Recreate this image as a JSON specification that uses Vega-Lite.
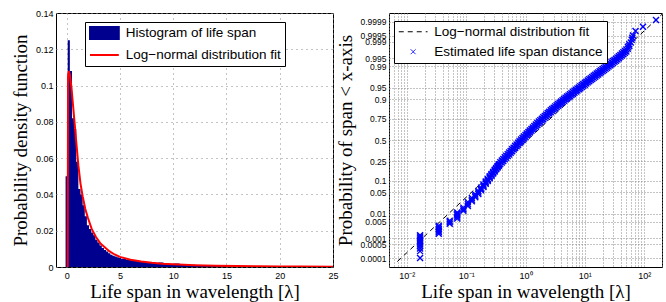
{
  "$schema": "https://vega.github.io/schema/vega-lite/v6.json",
  "background": "white",
  "padding": {"left": 10, "top": 8, "right": 0, "bottom": 0},
  "spacing": -4,
  "resolve": {"scale": {"color": "independent"}, "legend": {"color": "independent"}},
  "config": {
    "font": "Liberation Sans",
    "view": {"stroke": "black", "strokeWidth": 1},
    "axis": {
      "labelFont": "Liberation Sans", "labelFontSize": 9, "labelColor": "black", "labelFontWeight": "normal",
      "titleFont": "Liberation Serif", "titleFontSize": 19, "titleFontWeight": "normal", "titleColor": "black",
      "domain": false, "ticks": false, "tickSize": 0, "tickCount": 500,
      "grid": true, "gridColor": "#888888", "gridOpacity": 1, "gridWidth": 1,
      "labelOverlap": false, "labelBound": false, "labelFlush": false
    },
    "legend": {
      "labelFont": "Liberation Sans", "labelFontSize": 13.5, "labelColor": "black", "labelLimit": 400,
      "symbolSize": 144, "padding": 4, "rowPadding": 5, "labelOffset": 22.8,
      "strokeColor": "black", "fillColor": "white", "cornerRadius": 0, "direction": "vertical"
    }
  },
  "hconcat": [
    {
      "width": 277,
      "height": 254,
      "layer": [
        {
          "data": {"values": [
            {"lo": -0.1, "hi": 0.1, "p": 0.05},
            {"lo": 0.1, "hi": 0.3, "p": 0.125},
            {"lo": 0.3, "hi": 0.5, "p": 0.108},
            {"lo": 0.5, "hi": 0.7, "p": 0.082},
            {"lo": 0.7, "hi": 0.9, "p": 0.076},
            {"lo": 0.9, "hi": 1.1, "p": 0.058},
            {"lo": 1.1, "hi": 1.3, "p": 0.043},
            {"lo": 1.3, "hi": 1.5, "p": 0.040},
            {"lo": 1.5, "hi": 1.7, "p": 0.034},
            {"lo": 1.7, "hi": 1.9, "p": 0.028},
            {"lo": 1.9, "hi": 2.1, "p": 0.023},
            {"lo": 2.1, "hi": 2.3, "p": 0.021},
            {"lo": 2.3, "hi": 2.5, "p": 0.019},
            {"lo": 2.5, "hi": 2.7, "p": 0.0175},
            {"lo": 2.7, "hi": 2.9, "p": 0.015},
            {"lo": 2.9, "hi": 3.1, "p": 0.0135},
            {"lo": 3.1, "hi": 3.3, "p": 0.0118},
            {"lo": 3.3, "hi": 3.5, "p": 0.0105},
            {"lo": 3.5, "hi": 3.7, "p": 0.0094},
            {"lo": 3.7, "hi": 3.9, "p": 0.0085},
            {"lo": 3.9, "hi": 4.1, "p": 0.0076},
            {"lo": 4.1, "hi": 4.3, "p": 0.0068},
            {"lo": 4.3, "hi": 4.5, "p": 0.0062},
            {"lo": 4.5, "hi": 4.7, "p": 0.0058},
            {"lo": 4.7, "hi": 4.9, "p": 0.0054},
            {"lo": 4.9, "hi": 5.1, "p": 0.0050},
            {"lo": 5.1, "hi": 5.6, "p": 0.0046},
            {"lo": 5.6, "hi": 6.1, "p": 0.0040},
            {"lo": 6.1, "hi": 6.6, "p": 0.0036},
            {"lo": 6.6, "hi": 7.1, "p": 0.0031},
            {"lo": 7.1, "hi": 7.6, "p": 0.0027},
            {"lo": 7.6, "hi": 8.1, "p": 0.0023},
            {"lo": 8.1, "hi": 8.6, "p": 0.0020},
            {"lo": 8.6, "hi": 9.1, "p": 0.0025},
            {"lo": 9.1, "hi": 9.6, "p": 0.0016},
            {"lo": 9.6, "hi": 10.1, "p": 0.0014},
            {"lo": 10.1, "hi": 10.6, "p": 0.0019},
            {"lo": 10.6, "hi": 11.1, "p": 0.0011},
            {"lo": 11.1, "hi": 11.6, "p": 0.0016},
            {"lo": 11.6, "hi": 12.1, "p": 0.0012},
            {"lo": 12.1, "hi": 12.6, "p": 0.0008},
            {"lo": 12.6, "hi": 13.1, "p": 0.0007},
            {"lo": 13.1, "hi": 13.6, "p": 0.0011},
            {"lo": 13.6, "hi": 14.1, "p": 0.0006},
            {"lo": 14.1, "hi": 14.6, "p": 0.0005},
            {"lo": 14.6, "hi": 15.1, "p": 0.0005},
            {"lo": 15.1, "hi": 15.6, "p": 0.0004},
            {"lo": 15.6, "hi": 16.1, "p": 0.0005},
            {"lo": 16.1, "hi": 16.6, "p": 0.0003},
            {"lo": 16.6, "hi": 17.1, "p": 0.0003},
            {"lo": 17.1, "hi": 17.6, "p": 0.0004},
            {"lo": 17.6, "hi": 18.1, "p": 0.0002},
            {"lo": 18.1, "hi": 18.6, "p": 0.0002},
            {"lo": 18.6, "hi": 19.1, "p": 0.0003},
            {"lo": 19.1, "hi": 19.6, "p": 0.0002},
            {"lo": 19.6, "hi": 20.1, "p": 0.0001},
            {"lo": 20.1, "hi": 20.6, "p": 0.0002},
            {"lo": 20.6, "hi": 21.1, "p": 0.0001},
            {"lo": 21.1, "hi": 21.6, "p": 0.0001},
            {"lo": 21.6, "hi": 22.1, "p": 0.0001},
            {"lo": 22.1, "hi": 22.6, "p": 0.0001},
            {"lo": 22.6, "hi": 23.1, "p": 0.00005},
            {"lo": 23.1, "hi": 23.6, "p": 0.0001},
            {"lo": 23.6, "hi": 24.1, "p": 0.00005},
            {"lo": 24.1, "hi": 24.6, "p": 0.00005},
            {"lo": 24.6, "hi": 25.1, "p": 0.00005}
          ]},
          "mark": {"type": "area", "interpolate": "step-after", "clip": true},
          "encoding": {
            "x": {"field": "lo", "type": "quantitative",
              "scale": {"domain": [-1, 25], "nice": false, "zero": false},
              "axis": {"values": [0, 5, 10, 15, 20, 25], "format": "~g", "tickCount": 500, "labelOverlap": false, "title": "Life span in wavelength [λ]", "labelPadding": 4, "titlePadding": 2, "gridDash": [1, 4]}},
            "y": {"field": "p", "type": "quantitative",
              "scale": {"domain": [0, 0.14], "nice": false},
              "axis": {"values": [0, 0.02, 0.04, 0.06, 0.08, 0.1, 0.12, 0.14], "tickCount": 500, "labelOverlap": false, "format": "~g", "title": "Probability density function", "labelPadding": 3, "titlePadding": 5, "gridDash": [1, 4]}},
            "color": {"datum": "Histogram of life span", "type": "nominal",
              "scale": {"domain": ["Histogram of life span", "Log−normal distribution fit"], "range": ["#00008f", "#ff0000"]},
              "legend": {"title": null, "orient": "none", "legendX": 29, "legendY": 9,
                "encode": {"symbols": {"update": {
                  "shape": {"signal": "datum.value === 'Histogram of life span' ? 'M-1,-1H3.8V1H-1Z' : 'M-1,0H3.8'"},
                  "fill": {"signal": "datum.value === 'Histogram of life span' ? '#00008f' : 'transparent'"},
                  "stroke": {"signal": "datum.value === 'Histogram of life span' ? 'transparent' : '#ff0000'"},
                  "strokeWidth": {"value": 2},
                  "size": {"value": 144},
                  "opacity": {"value": 1}
                }}}}}
          }
        },
        {
          "data": {"values": [
            {"x": 0.1, "p": 0}, {"x": 0.13, "p": 0.105}, {"x": 0.2, "p": 0.108}, {"x": 0.3, "p": 0.106},
            {"x": 0.45, "p": 0.099}, {"x": 0.6, "p": 0.089}, {"x": 0.75, "p": 0.079}, {"x": 0.9, "p": 0.069},
            {"x": 1.1, "p": 0.056}, {"x": 1.3, "p": 0.046}, {"x": 1.5, "p": 0.039}, {"x": 1.75, "p": 0.032},
            {"x": 2.0, "p": 0.027}, {"x": 2.35, "p": 0.021}, {"x": 2.75, "p": 0.0165}, {"x": 3.2, "p": 0.0128},
            {"x": 3.6, "p": 0.0108}, {"x": 4.0, "p": 0.0087}, {"x": 4.5, "p": 0.0069}, {"x": 5.0, "p": 0.0056},
            {"x": 6, "p": 0.0040}, {"x": 7, "p": 0.0030}, {"x": 8, "p": 0.0023}, {"x": 9, "p": 0.0018},
            {"x": 10, "p": 0.0015}, {"x": 12, "p": 0.0010}, {"x": 14, "p": 0.0007}, {"x": 16, "p": 0.0005},
            {"x": 18, "p": 0.00038}, {"x": 20, "p": 0.0003}, {"x": 22, "p": 0.00022}, {"x": 25, "p": 0.00016}
          ]},
          "mark": {"type": "line", "strokeWidth": 2, "clip": true},
          "encoding": {
            "x": {"field": "x", "type": "quantitative"},
            "y": {"field": "p", "type": "quantitative"},
            "color": {"datum": "Log−normal distribution fit", "type": "nominal"}
          }
        }
      ]
    },
    {
      "width": 273,
      "height": 254,
      "layer": [
        {
          "data": {"values": [{"x": 0.0069, "z": -3.83}, {"x": 200, "z": 3.96}]},
          "mark": {"type": "line", "strokeDash": [5, 4], "strokeWidth": 1, "clip": true},
          "encoding": {
            "x": {"field": "x", "type": "quantitative",
              "scale": {"type": "log", "domain": [0.005, 200], "nice": false},
              "axis": {"values": [0.005, 0.006, 0.007, 0.008, 0.009, 0.01, 0.02, 0.03, 0.04, 0.05, 0.06, 0.07, 0.08, 0.09, 0.1, 0.2, 0.3, 0.4, 0.5, 0.6, 0.7, 0.8, 0.9, 1, 2, 3, 4, 5, 6, 7, 8, 9, 10, 20, 30, 40, 50, 60, 70, 80, 90, 100, 200],
                "tickCount": 500, "labelOverlap": false,
                "labelExpr": "datum.value === 0.01 ? '10⁻²' : datum.value === 0.1 ? '10⁻¹' : datum.value === 1 ? '10⁰' : datum.value === 10 ? '10¹' : datum.value === 100 ? '10²' : ''",
                "title": "Life span in wavelength [λ]", "labelPadding": 4, "titlePadding": 2, "gridDash": [1, 2]}},
            "y": {"field": "z", "type": "quantitative",
              "scale": {"domain": [-4, 4], "nice": false, "zero": false},
              "axis": {"values": [-3.719, -3.2905, -3.0902, -2.5758, -2.3263, -1.6449, -1.2816, -0.6745, 0, 0.6745, 1.2816, 1.6449, 2.3263, 2.5758, 3.0902, 3.2905, 3.719],
                "tickCount": 500, "labelOverlap": false, "labelFontSize": 8.5,
                "labelExpr": "datum.value < -3.5 ? '0.0001' : datum.value < -3.2 ? '0.0005' : datum.value < -3 ? '0.001' : datum.value < -2.5 ? '0.005' : datum.value < -2.3 ? '0.01' : datum.value < -1.6 ? '0.05' : datum.value < -1.2 ? '0.1' : datum.value < -0.6 ? '0.25' : datum.value < 0.1 ? '0.5' : datum.value < 0.7 ? '0.75' : datum.value < 1.3 ? '0.9' : datum.value < 1.7 ? '0.95' : datum.value < 2.4 ? '0.99' : datum.value < 2.6 ? '0.995' : datum.value < 3.1 ? '0.999' : datum.value < 3.3 ? '0.9995' : '0.9999'",
                "encode": {"labels": {"update": {"dy": {"signal": "datum.value > 3.2 && datum.value < 3.3 ? -2.5 : datum.value > 3 && datum.value < 3.1 ? 2.5 : datum.value > 2.5 && datum.value < 2.6 ? -2 : datum.value > 2.3 && datum.value < 2.4 ? 2 : datum.value > -3.1 && datum.value < -3 ? -2.5 : datum.value > -3.3 && datum.value < -3.2 ? 2.5 : 0"}}}},
                "title": "Probability of span < x-axis", "labelPadding": 3, "titlePadding": 5, "gridDash": [1, 2]}},
            "color": {"datum": "Log−normal distribution fit", "type": "nominal",
              "scale": {"domain": ["Log−normal distribution fit", "Estimated life span distance"], "range": ["#000000", "#0000ff"]},
              "legend": {"title": null, "orient": "none", "legendX": 5, "legendY": 8,
                "encode": {"symbols": {"update": {
                  "shape": {"signal": "datum.value === 'Log−normal distribution fit' ? 'M-1,0H3.8' : 'M1,-0.4L1.8,0.4M1.8,-0.4L1,0.4'"},
                  "fill": {"value": "transparent"},
                  "stroke": {"signal": "datum.value === 'Log−normal distribution fit' ? '#000000' : '#0000ff'"},
                  "strokeDash": {"signal": "datum.value === 'Log−normal distribution fit' ? [5, 4] : [1, 0]"},
                  "strokeWidth": {"value": 1},
                  "size": {"value": 144},
                  "opacity": {"value": 1}
                }}}}}
          }
        },
        {
          "data": {"values": [
            {"x": 0.0167, "z": -3.72}, {"x": 0.0167, "z": -3.50}, {"x": 0.0167, "z": -3.42}, {"x": 0.0167, "z": -3.35},
            {"x": 0.0167, "z": -3.29}, {"x": 0.0167, "z": -3.23}, {"x": 0.0167, "z": -3.18}, {"x": 0.0167, "z": -3.13},
            {"x": 0.0167, "z": -3.08}, {"x": 0.0167, "z": -3.04}, {"x": 0.0167, "z": -3.00},
            {"x": 0.0345, "z": -2.95}, {"x": 0.0345, "z": -2.90}, {"x": 0.0345, "z": -2.85}, {"x": 0.0345, "z": -2.80},
            {"x": 0.0345, "z": -2.75}, {"x": 0.0345, "z": -2.70},
            {"x": 0.0528, "z": -2.64}, {"x": 0.0528, "z": -2.59}, {"x": 0.0528, "z": -2.54},
            {"x": 0.0706, "z": -2.47}, {"x": 0.0706, "z": -2.42}, {"x": 0.0706, "z": -2.37}, {"x": 0.0706, "z": -2.32}, {"x": 0.0706, "z": -2.28},
            {"x": 0.0897, "z": -2.23}, {"x": 0.0897, "z": -2.18}, {"x": 0.0897, "z": -2.13},
            {"x": 0.1068, "z": -2.08}, {"x": 0.1068, "z": -2.02}, {"x": 0.1068, "z": -1.96},
            {"x": 0.1246, "z": -1.93}, {"x": 0.1246, "z": -1.88}, {"x": 0.1246, "z": -1.83},
            {"x": 0.1424, "z": -1.80}, {"x": 0.1424, "z": -1.76}, {"x": 0.1424, "z": -1.72},
            {"x": 0.1602, "z": -1.70}, {"x": 0.1602, "z": -1.65}, {"x": 0.1602, "z": -1.61},
            {"x": 0.178, "z": -1.58}, {"x": 0.178, "z": -1.54}, {"x": 0.178, "z": -1.50},
            {"x": 0.1958, "z": -1.48}, {"x": 0.1958, "z": -1.44}, {"x": 0.1958, "z": -1.40},
            {"x": 0.2136, "z": -1.38}, {"x": 0.2136, "z": -1.34}, {"x": 0.2136, "z": -1.31},
            {"x": 0.2314, "z": -1.29}, {"x": 0.2314, "z": -1.26}, {"x": 0.2314, "z": -1.225},
            {"x": 0.2492, "z": -1.205}, {"x": 0.2492, "z": -1.176}, {"x": 0.2492, "z": -1.145},
            {"x": 0.267, "z": -1.13}, {"x": 0.267, "z": -1.10}, {"x": 0.267, "z": -1.07},
            {"x": 0.2848, "z": -1.055}, {"x": 0.2848, "z": -1.03}, {"x": 0.2848, "z": -1.005},
            {"x": 0.3026, "z": -0.99}, {"x": 0.3026, "z": -0.964}, {"x": 0.3026, "z": -0.94},
            {"x": 0.3204, "z": -0.925}, {"x": 0.3204, "z": -0.902}, {"x": 0.3204, "z": -0.88},
            {"x": 0.3382, "z": -0.865}, {"x": 0.3382, "z": -0.843}, {"x": 0.3382, "z": -0.82},
            {"x": 0.356, "z": -0.81}, {"x": 0.356, "z": -0.787}, {"x": 0.356, "z": -0.765},
            {"x": 0.37584, "z": -0.76}, {"x": 0.37584, "z": -0.70},
            {"x": 0.39811, "z": -0.709}, {"x": 0.39811, "z": -0.649},
            {"x": 0.4217, "z": -0.658}, {"x": 0.4217, "z": -0.598},
            {"x": 0.44668, "z": -0.607}, {"x": 0.44668, "z": -0.547},
            {"x": 0.47315, "z": -0.556}, {"x": 0.47315, "z": -0.496},
            {"x": 0.50119, "z": -0.505}, {"x": 0.50119, "z": -0.445},
            {"x": 0.53088, "z": -0.454}, {"x": 0.53088, "z": -0.394},
            {"x": 0.56234, "z": -0.403}, {"x": 0.56234, "z": -0.343},
            {"x": 0.59566, "z": -0.352}, {"x": 0.59566, "z": -0.292},
            {"x": 0.63096, "z": -0.301}, {"x": 0.63096, "z": -0.241},
            {"x": 0.66834, "z": -0.25}, {"x": 0.66834, "z": -0.19},
            {"x": 0.70795, "z": -0.199}, {"x": 0.70795, "z": -0.139},
            {"x": 0.74989, "z": -0.148}, {"x": 0.74989, "z": -0.088},
            {"x": 0.79433, "z": -0.097}, {"x": 0.79433, "z": -0.037},
            {"x": 0.8414, "z": -0.046}, {"x": 0.8414, "z": 0.014},
            {"x": 0.89125, "z": 0.003}, {"x": 0.89125, "z": 0.063},
            {"x": 0.94406, "z": 0.05}, {"x": 0.94406, "z": 0.11},
            {"x": 1.0, "z": 0.098}, {"x": 1.0, "z": 0.158},
            {"x": 1.0593, "z": 0.146}, {"x": 1.0593, "z": 0.206},
            {"x": 1.122, "z": 0.194}, {"x": 1.122, "z": 0.254},
            {"x": 1.1885, "z": 0.242}, {"x": 1.1885, "z": 0.302},
            {"x": 1.2589, "z": 0.29}, {"x": 1.2589, "z": 0.35},
            {"x": 1.3335, "z": 0.336}, {"x": 1.3335, "z": 0.396},
            {"x": 1.4125, "z": 0.382}, {"x": 1.4125, "z": 0.442},
            {"x": 1.4962, "z": 0.428}, {"x": 1.4962, "z": 0.488},
            {"x": 1.5849, "z": 0.474}, {"x": 1.5849, "z": 0.534},
            {"x": 1.6788, "z": 0.52}, {"x": 1.6788, "z": 0.58},
            {"x": 1.7783, "z": 0.566}, {"x": 1.7783, "z": 0.626},
            {"x": 1.8836, "z": 0.612}, {"x": 1.8836, "z": 0.672},
            {"x": 1.9953, "z": 0.656}, {"x": 1.9953, "z": 0.716},
            {"x": 2.1135, "z": 0.70}, {"x": 2.1135, "z": 0.76},
            {"x": 2.2387, "z": 0.744}, {"x": 2.2387, "z": 0.804},
            {"x": 2.3714, "z": 0.788}, {"x": 2.3714, "z": 0.848},
            {"x": 2.5119, "z": 0.832}, {"x": 2.5119, "z": 0.892},
            {"x": 2.6607, "z": 0.876}, {"x": 2.6607, "z": 0.936},
            {"x": 2.8184, "z": 0.92}, {"x": 2.8184, "z": 0.98},
            {"x": 2.9854, "z": 0.959}, {"x": 2.9854, "z": 1.019},
            {"x": 3.1623, "z": 0.999}, {"x": 3.1623, "z": 1.059},
            {"x": 3.3497, "z": 1.038}, {"x": 3.3497, "z": 1.098},
            {"x": 3.5481, "z": 1.077}, {"x": 3.5481, "z": 1.137},
            {"x": 3.7584, "z": 1.116}, {"x": 3.7584, "z": 1.176},
            {"x": 3.9811, "z": 1.156}, {"x": 3.9811, "z": 1.216},
            {"x": 4.217, "z": 1.195}, {"x": 4.217, "z": 1.255},
            {"x": 4.4668, "z": 1.234}, {"x": 4.4668, "z": 1.294},
            {"x": 4.7315, "z": 1.272}, {"x": 4.7315, "z": 1.332},
            {"x": 5.0119, "z": 1.308}, {"x": 5.0119, "z": 1.368},
            {"x": 5.3088, "z": 1.344}, {"x": 5.3088, "z": 1.404},
            {"x": 5.6234, "z": 1.38}, {"x": 5.6234, "z": 1.44},
            {"x": 5.9566, "z": 1.416}, {"x": 5.9566, "z": 1.476},
            {"x": 6.3096, "z": 1.452}, {"x": 6.3096, "z": 1.512},
            {"x": 6.6834, "z": 1.488}, {"x": 6.6834, "z": 1.548},
            {"x": 7.0795, "z": 1.524}, {"x": 7.0795, "z": 1.584},
            {"x": 7.4989, "z": 1.56}, {"x": 7.4989, "z": 1.62},
            {"x": 7.9433, "z": 1.596}, {"x": 7.9433, "z": 1.656},
            {"x": 8.414, "z": 1.632}, {"x": 8.414, "z": 1.692},
            {"x": 8.9125, "z": 1.669}, {"x": 8.9125, "z": 1.729},
            {"x": 9.4406, "z": 1.705}, {"x": 9.4406, "z": 1.765},
            {"x": 10.0, "z": 1.742}, {"x": 10.0, "z": 1.802},
            {"x": 10.593, "z": 1.778}, {"x": 10.593, "z": 1.838},
            {"x": 11.22, "z": 1.815}, {"x": 11.22, "z": 1.875},
            {"x": 11.885, "z": 1.851}, {"x": 11.885, "z": 1.911},
            {"x": 12.589, "z": 1.887}, {"x": 12.589, "z": 1.947},
            {"x": 13.335, "z": 1.924}, {"x": 13.335, "z": 1.984},
            {"x": 14.125, "z": 1.96}, {"x": 14.125, "z": 2.02},
            {"x": 14.962, "z": 1.995}, {"x": 14.962, "z": 2.055},
            {"x": 15.849, "z": 2.031}, {"x": 15.849, "z": 2.091},
            {"x": 16.788, "z": 2.066}, {"x": 16.788, "z": 2.126},
            {"x": 17.783, "z": 2.102}, {"x": 17.783, "z": 2.162},
            {"x": 18.836, "z": 2.137}, {"x": 18.836, "z": 2.197},
            {"x": 19.953, "z": 2.173}, {"x": 19.953, "z": 2.233},
            {"x": 21.135, "z": 2.208}, {"x": 21.135, "z": 2.268},
            {"x": 22.387, "z": 2.243}, {"x": 22.387, "z": 2.303},
            {"x": 23.714, "z": 2.279}, {"x": 23.714, "z": 2.339},
            {"x": 25.119, "z": 2.315}, {"x": 25.119, "z": 2.375},
            {"x": 26.607, "z": 2.351}, {"x": 26.607, "z": 2.411},
            {"x": 28.184, "z": 2.388}, {"x": 28.184, "z": 2.448},
            {"x": 29.854, "z": 2.425}, {"x": 29.854, "z": 2.485},
            {"x": 31.623, "z": 2.462}, {"x": 31.623, "z": 2.522},
            {"x": 33.497, "z": 2.499}, {"x": 33.497, "z": 2.559},
            {"x": 35.481, "z": 2.535}, {"x": 35.481, "z": 2.595},
            {"x": 37.584, "z": 2.576}, {"x": 37.584, "z": 2.636},
            {"x": 39.811, "z": 2.619}, {"x": 39.811, "z": 2.679},
            {"x": 42.17, "z": 2.661}, {"x": 42.17, "z": 2.721},
            {"x": 44.668, "z": 2.704}, {"x": 44.668, "z": 2.764},
            {"x": 47.315, "z": 2.747}, {"x": 47.315, "z": 2.807},
            {"x": 50.119, "z": 2.79}, {"x": 50.119, "z": 2.85},
            {"x": 53.088, "z": 2.874}, {"x": 53.088, "z": 2.934},
            {"x": 56.234, "z": 2.959}, {"x": 56.234, "z": 3.019},
            {"x": 59.566, "z": 3.073},
            {"x": 61.66, "z": 3.16},
            {"x": 63.096, "z": 3.22},
            {"x": 64.565, "z": 3.29},
            {"x": 71.6, "z": 3.43},
            {"x": 95.5, "z": 3.57},
            {"x": 158.5, "z": 3.78}
          ]},
          "mark": {"type": "point", "shape": "M-1,-1L1,1M1,-1L-1,1", "filled": false, "size": 36, "strokeWidth": 1.4, "opacity": 1, "clip": true},
          "encoding": {
            "x": {"field": "x", "type": "quantitative"},
            "y": {"field": "z", "type": "quantitative"},
            "color": {"datum": "Estimated life span distance", "type": "nominal"}
          }
        }
      ]
    }
  ]
}
